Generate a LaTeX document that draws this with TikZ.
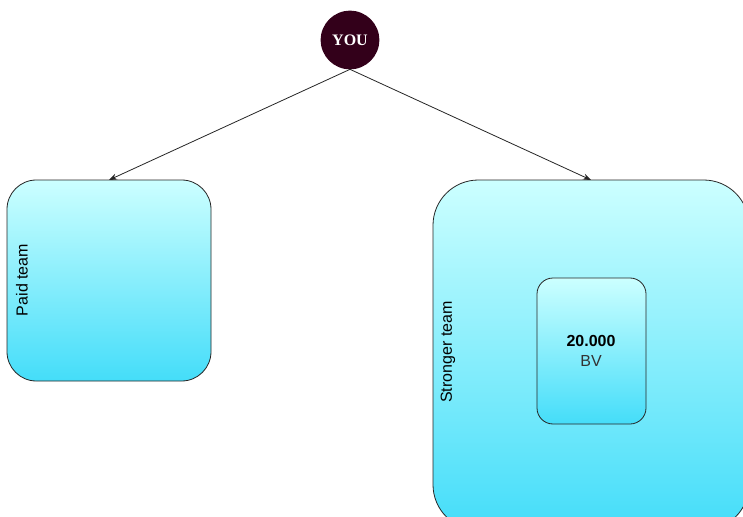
\documentclass[tikz,border=0pt]{standalone}
\usepackage{fontspec}
\setmainfont{Liberation Sans}
\newfontfamily\youfont{Liberation Serif}
\usetikzlibrary{arrows.meta}
\definecolor{youfill}{HTML}{33001A}
\definecolor{gradtop}{HTML}{CCFFFF}
\definecolor{gradbot}{HTML}{44DDF9}
\definecolor{bvgray}{HTML}{333333}
\tikzset{
  teambox/.style={draw=black!85, line width=0.6pt, top color=gradtop, bottom color=gradbot,
    shape=rectangle, inner sep=0pt, outer sep=0pt},
  youcircle/.style={circle, fill=youfill, draw=none, minimum size=44pt, inner sep=0pt, outer sep=0pt,
    text=white, font=\youfont\bfseries\fontsize{12}{14}\selectfont},
  sidelabel/.style={rotate=90, font=\fontsize{12}{14}\selectfont, inner sep=0pt},
  conn/.style={draw=black!85, line width=0.6pt, -{Stealth[length=6pt,width=4.5pt]}}
}
\begin{document}
\begin{tikzpicture}[x=0.75pt,y=-0.75pt]
\clip (0,0) rectangle (743,517);
\fill[white] (0,0) rectangle (743,517);
\node[youcircle] (you) at (350,40) {YOU};
\node[teambox, rounded corners=22pt, minimum width=153pt, minimum height=150.75pt] (paid) at (109,280.5) {};
\node[teambox, rounded corners=34pt, minimum width=237pt, minimum height=262.5pt] (strong) at (591,355) {};
\node[teambox, rounded corners=12pt, minimum width=81.75pt, minimum height=109.5pt] (bv) at (591.5,351) {};
\node[sidelabel] (paidlbl) at (22,280) {Paid team};
\node[sidelabel] (stronglbl) at (448,352) {Stronger team};
\node[align=center, font=\fontsize{12}{15}\selectfont, inner sep=0pt] (bvlbl) at (591,351) {\textbf{20.000}\\\textcolor{bvgray}{BV}};
\draw[conn] (you.south) -- (paid.north);
\draw[conn] (you.south) -- (strong.north);
\end{tikzpicture}
\end{document}
